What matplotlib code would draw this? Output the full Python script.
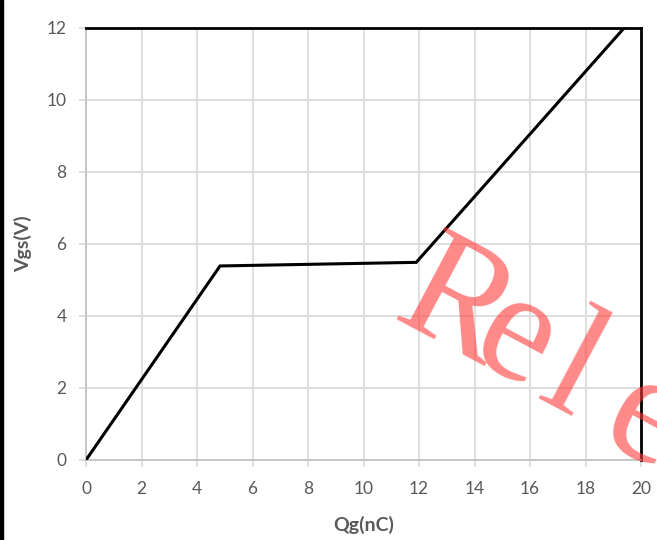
import matplotlib.pyplot as plt

# gate charge curve: Qg (nC) vs Vgs (V)
qg = [0, 4.83, 11.9, 19.39]
vgs = [0, 5.39, 5.49, 12]

xticks = [0, 2, 4, 6, 8, 10, 12, 14, 16, 18, 20]
yticks = [0, 2, 4, 6, 8, 10, 12]

# watermark letters and their baseline origins (pixels from top-left)
wm_chars = ['R', 'e', 'l', 'e']
wm_pos = [(390, 318), (467, 358), (535, 398), (597, 440)]

gray = '#595959'
grid = '#d9d9d9'
W, H = 657, 540

fig = plt.figure(figsize=(6.57, 5.40), dpi=100)
ax = fig.add_axes([86/W, 80/H, 555/W, 432/H])

ax.plot(qg, vgs, color='black', lw=2.2, solid_joinstyle='miter', zorder=3)

ax.set_xlim(0, 20)
ax.set_ylim(0, 12)
ax.set_xticks(xticks)
ax.set_yticks(yticks)
ax.grid(True, color=grid, lw=1.2)
ax.set_axisbelow(True)
ax.tick_params(colors=grid, labelcolor=gray, labelsize=12.5, length=5, width=1.2)
ax.tick_params(axis='x', pad=10)
ax.tick_params(axis='y', pad=9)

for s in ['left', 'bottom']:
    ax.spines[s].set_color('#bfbfbf')
    ax.spines[s].set_linewidth(1.2)
for s in ['top', 'right']:
    ax.spines[s].set_color('black')
    ax.spines[s].set_linewidth(2)

ax.set_xlabel('Qg(nC)', fontsize=14, fontweight='bold', color=gray, family='Lato')
ax.set_ylabel('Vgs(V)', fontsize=14, fontweight='bold', color=gray, family='Lato')
ax.xaxis.set_label_coords(0.5, -0.13)
ax.yaxis.set_label_coords(-0.097, 0.5)
for lab in ax.get_xticklabels() + ax.get_yticklabels():
    lab.set_family('Lato')

# watermark, runs off the right edge
for ch, (px, py) in zip(wm_chars, wm_pos):
    fig.text(px/W, 1 - py/H, ch, fontsize=114, family='Liberation Serif',
             color='#ff3a3a', alpha=0.6, rotation=-28, ha='left', va='baseline',
             rotation_mode='anchor', zorder=5)

# dark strip on the left edge
fig.patches.append(plt.Rectangle((0, 0), 3/W, 1, transform=fig.transFigure,
                                 color='black', zorder=10))

fig.savefig('out.png', dpi=100)
